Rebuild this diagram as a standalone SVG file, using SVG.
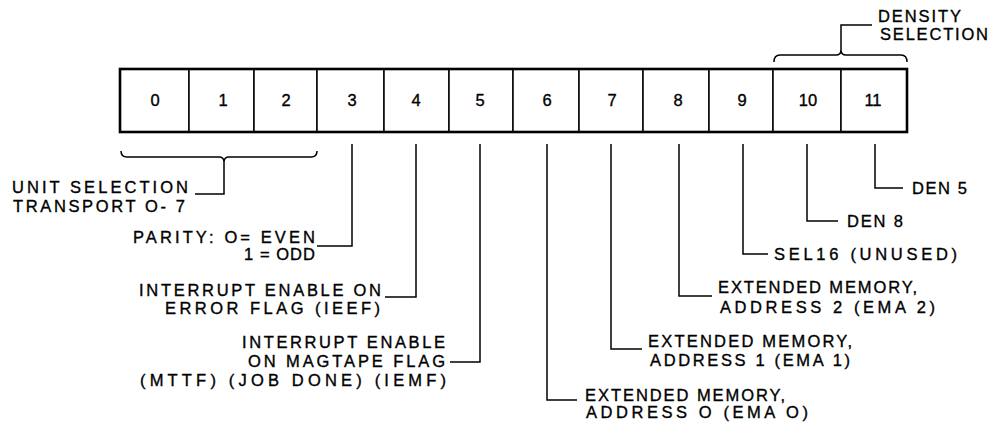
<svg xmlns="http://www.w3.org/2000/svg" width="994" height="423" viewBox="0 0 994 423">
<style>
  text { font-family: "Liberation Sans", Arial, Helvetica, sans-serif; fill: #000; stroke: #000; stroke-width: 0.35; }
  .lbl { font-size: 16.5px; }
  .dig { font-size: 16.5px; text-anchor: middle; }
  .cell { fill: #fff; stroke: #000; stroke-width: 1.5; }
  .frame { fill: none; stroke: #000; stroke-width: 2.6; }
  .con { fill: none; stroke: #000; stroke-width: 1.5; stroke-linejoin: miter; }
</style>
<rect width="994" height="423" fill="#fff"/>

<g id="register">
  <g id="bit-0"><rect class="cell" x="120" y="69" width="69" height="63"/><text class="dig" x="155" y="106">0</text></g>
  <g id="bit-1"><rect class="cell" x="189" y="69" width="65" height="63"/><text class="dig" x="223" y="106">1</text></g>
  <g id="bit-2"><rect class="cell" x="254" y="69" width="63" height="63"/><text class="dig" x="286" y="106">2</text></g>
  <g id="bit-3"><rect class="cell" x="317" y="69" width="67" height="63"/><text class="dig" x="352" y="106">3</text></g>
  <g id="bit-4"><rect class="cell" x="384" y="69" width="65" height="63"/><text class="dig" x="416" y="106">4</text></g>
  <g id="bit-5"><rect class="cell" x="449" y="69" width="64" height="63"/><text class="dig" x="480" y="106">5</text></g>
  <g id="bit-6"><rect class="cell" x="513" y="69" width="66" height="63"/><text class="dig" x="547" y="106">6</text></g>
  <g id="bit-7"><rect class="cell" x="579" y="69" width="64" height="63"/><text class="dig" x="612" y="106">7</text></g>
  <g id="bit-8"><rect class="cell" x="643" y="69" width="66" height="63"/><text class="dig" x="678" y="106">8</text></g>
  <g id="bit-9"><rect class="cell" x="709" y="69" width="64" height="63"/><text class="dig" x="742" y="106">9</text></g>
  <g id="bit-10"><rect class="cell" x="773" y="69" width="68" height="63"/><text class="dig" x="808" y="106">10</text></g>
  <g id="bit-11"><rect class="cell" x="841" y="69" width="66" height="63"/><text class="dig" x="873" y="106">11</text></g>
  <rect class="frame" x="120" y="69" width="787" height="63"/>
</g>

<g id="connectors">
  <!-- brace bits 0-2 -->
  <path class="con" d="M121,151 Q121,157 127,157 L219,157 Q224,157 224,162 L224,194 L195,194 M224,162 Q224,157 229,157 L311,157 Q317,157 317,151"/>
  <!-- brace bits 10-11 -->
  <path class="con" d="M774,62 Q774,55 780,55 L836,55 Q841,55 841,50 L841,25 L872,25 M841,50 Q841,55 846,55 L901,55 Q907,55 907,62"/>
  <path class="con" d="M352,144 L352,246 L317,246"/>
  <path class="con" d="M416,144 L416,297 L385,297"/>
  <path class="con" d="M480,144 L480,362 L450,362"/>
  <path class="con" d="M547,144 L547,400 L577,400"/>
  <path class="con" d="M611,144 L611,349 L642,349"/>
  <path class="con" d="M679,144 L679,296 L712,296"/>
  <path class="con" d="M743,144 L743,254 L768,254"/>
  <path class="con" d="M807,144 L807,221 L838,221"/>
  <path class="con" d="M875,144 L875,188 L903,188"/>
</g>

<g id="label-unit-selection">
  <text class="lbl" x="12" y="193" textLength="176" lengthAdjust="spacing">UNIT SELECTION</text>
  <text class="lbl" x="13" y="212" textLength="172" lengthAdjust="spacing">TRANSPORT O- 7</text>
</g>
<g id="label-parity">
  <text class="lbl" x="133" y="243" textLength="182" lengthAdjust="spacing">PARITY: O= EVEN</text>
  <text class="lbl" x="244" y="260" textLength="71" lengthAdjust="spacing">1 = ODD</text>
</g>
<g id="label-ieef">
  <text class="lbl" x="139" y="296" textLength="242" lengthAdjust="spacing">INTERRUPT ENABLE ON</text>
  <text class="lbl" x="165" y="314" textLength="215" lengthAdjust="spacing">ERROR FLAG (IEEF)</text>
</g>
<g id="label-iemf">
  <text class="lbl" x="242" y="348" textLength="203" lengthAdjust="spacing">INTERRUPT ENABLE</text>
  <text class="lbl" x="248" y="367" textLength="197" lengthAdjust="spacing">ON MAGTAPE FLAG</text>
  <text class="lbl" x="140" y="386" textLength="306" lengthAdjust="spacing">(MTTF) (JOB DONE) (IEMF)</text>
</g>
<g id="label-ema0">
  <text class="lbl" x="585" y="401" textLength="200" lengthAdjust="spacing">EXTENDED MEMORY,</text>
  <text class="lbl" x="586" y="418" textLength="222" lengthAdjust="spacing">ADDRESS O (EMA O)</text>
</g>
<g id="label-ema1">
  <text class="lbl" x="648" y="347" textLength="204" lengthAdjust="spacing">EXTENDED MEMORY,</text>
  <text class="lbl" x="650" y="366" textLength="200" lengthAdjust="spacing">ADDRESS 1 (EMA 1)</text>
</g>
<g id="label-ema2">
  <text class="lbl" x="718" y="293" textLength="199" lengthAdjust="spacing">EXTENDED MEMORY,</text>
  <text class="lbl" x="720" y="313" textLength="215" lengthAdjust="spacing">ADDRESS 2 (EMA 2)</text>
</g>
<g id="label-sel16">
  <text class="lbl" x="774" y="260" textLength="183" lengthAdjust="spacing">SEL16 (UNUSED)</text>
</g>
<g id="label-den8">
  <text class="lbl" x="847" y="227" textLength="56" lengthAdjust="spacing">DEN 8</text>
</g>
<g id="label-den5">
  <text class="lbl" x="912" y="194" textLength="55" lengthAdjust="spacing">DEN 5</text>
</g>
<g id="label-density">
  <text class="lbl" x="878" y="22" textLength="83" lengthAdjust="spacing">DENSITY</text>
  <text class="lbl" x="880" y="40" textLength="108" lengthAdjust="spacing">SELECTION</text>
</g>
</svg>
